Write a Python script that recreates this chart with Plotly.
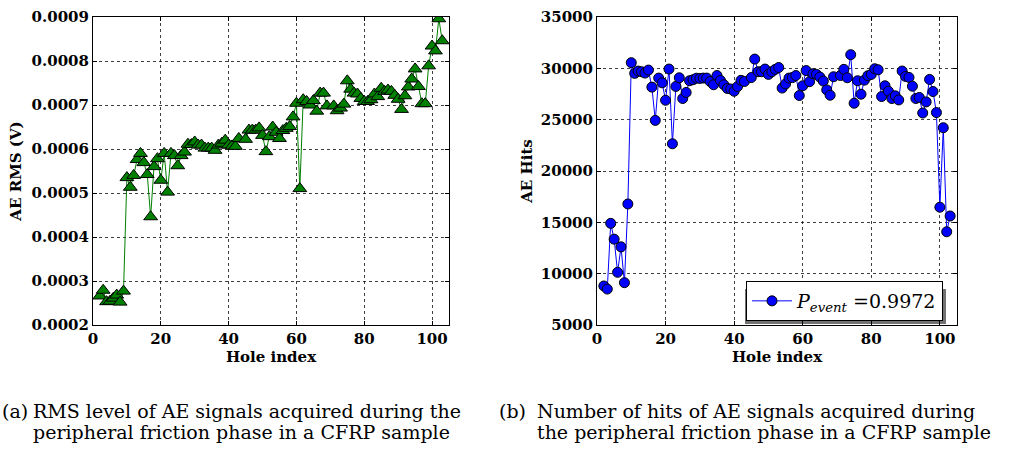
import plotly.graph_objects as go

# ---------------- data ----------------
holes = list(range(2, 44)) + list(range(45, 70)) + list(range(71, 104))

rms = [0.000266, 0.000279, 0.000253, 0.000254, 0.000261, 0.000268, 0.000252, 0.000277,
       0.000535, 0.000513, 0.000540, 0.000576, 0.000590, 0.000569, 0.000542, 0.000446, 0.000560, 0.000578,
       0.000529, 0.000590, 0.000502, 0.000590, 0.000585, 0.000562, 0.000585, 0.000593, 0.000611, 0.000610,
       0.000616, 0.000609, 0.000609, 0.000602, 0.000602, 0.000602, 0.000597, 0.000609, 0.000613, 0.000620,
       0.000609, 0.000607, 0.000606, 0.000624,
       0.000622, 0.000643, 0.000643, 0.000643, 0.000648, 0.000631, 0.000594, 0.000628, 0.000650, 0.000638,
       0.000624, 0.000642, 0.000647, 0.000651, 0.000673, 0.000704, 0.000510, 0.000712, 0.000708, 0.000700,
       0.000710, 0.000686, 0.000727, 0.000727, 0.000698,
       0.000698, 0.000687, 0.000693, 0.000702, 0.000755, 0.000736, 0.000727, 0.000725, 0.000715, 0.000708,
       0.000708, 0.000712, 0.000725, 0.000719, 0.000738, 0.000731, 0.000734, 0.000731, 0.000722, 0.000713,
       0.000690, 0.000721, 0.000741, 0.000759, 0.000782, 0.000742, 0.000703, 0.000703, 0.000789, 0.000834,
       0.000823, 0.000896, 0.000846]

hits = [8800, 8500, 14900, 13360, 10130, 12610, 9120, 16790,
        30550, 29510, 29735, 29670, 29540, 29830, 28170, 24930, 29050, 28590,
        26890, 29930, 22650, 28235, 29080, 27060, 27650, 28790, 28890, 29040,
        29020, 29050, 29050, 28720, 28400, 29300, 28820, 28400, 28040, 27990,
        27770, 28230, 28830, 28720,
        29100, 30900, 29670, 29670, 29930, 29410, 29670, 29900, 30080, 28080,
        28480, 29050, 29100, 29300, 27350, 28300, 29780, 28700, 29470, 29410,
        29150, 28760, 27900, 27380, 29180,
        29300, 29900, 29080, 31330, 26600, 28790, 27480, 28850, 29280, 29410,
        29960, 29860, 27250, 28300, 27770, 27060, 27320, 26920, 29735, 29210,
        29115, 28260, 27060, 27160, 25650, 26730, 28920, 27740, 25690, 16470,
        24215, 14080, 15620]

x_ticks = [0, 20, 40, 60, 80, 100]
rms_ticks = [0.0002, 0.0003, 0.0004, 0.0005, 0.0006, 0.0007, 0.0008, 0.0009]
hits_ticks = [5000, 10000, 15000, 20000, 25000, 30000, 35000]

legend_label = "<i>P</i><sub><i>event</i></sub> =0.9972"
x_title = "Hole index"
y1_title = "AE RMS (V)"
y2_title = "AE Hits"
cap_a1 = "RMS level of AE signals acquired during the"
cap_a2 = "peripheral friction phase in a CFRP sample"
cap_b1 = "Number of hits of AE signals acquired during"
cap_b2 = "the peripheral friction phase in a CFRP sample"

# ---------------- figure ----------------
W, H = 1010, 453
FONT = "DejaVu Serif"

fig = go.Figure()
fig.add_trace(go.Scatter(
    x=holes, y=rms, mode="lines+markers", xaxis="x", yaxis="y", showlegend=False,
    line=dict(color="#008000", width=1),
    marker=dict(symbol="triangle-up", size=12, color="#008000", line=dict(color="black", width=1)),
))
fig.add_trace(go.Scatter(
    x=holes, y=hits, mode="lines+markers", xaxis="x2", yaxis="y2", name=legend_label, showlegend=True,
    line=dict(color="#0000ff", width=1),
    marker=dict(symbol="circle", size=10, color="#0000ff", line=dict(color="black", width=1)),
))

tickfont = dict(family=FONT, size=15, color="black", weight="bold")
titlefont = dict(family=FONT, size=15, color="black", weight="bold")


def axis(**kw):
    d = dict(showline=True, linecolor="black", linewidth=1, mirror="ticks", ticks="inside",
             ticklen=4, tickcolor="black", showgrid=True, gridcolor="rgba(0,0,0,0.75)",
             griddash="dot", gridwidth=1, zeroline=False, automargin=False, tickfont=tickfont)
    d.update(kw)
    return d


yt, yb = 17, 325
ydom = [1 - yb / H, 1 - yt / H]

fig.update_layout(
    template="none",
    width=W, height=H,
    margin=dict(l=0, r=0, t=0, b=0),
    paper_bgcolor="white", plot_bgcolor="white",
    xaxis=axis(domain=[93 / W, 449 / W], range=[0, 105], tickvals=x_ticks, anchor="y",
               title=dict(text=x_title, font=titlefont, standoff=3)),
    yaxis=axis(domain=ydom, range=[0.0002, 0.0009], tickvals=rms_ticks, tickformat=".4f", anchor="x",
               title=dict(text=y1_title, font=titlefont, standoff=6)),
    xaxis2=axis(domain=[597 / W, 957 / W], range=[0, 105], tickvals=x_ticks, anchor="y2",
                title=dict(text=x_title, font=titlefont, standoff=3)),
    yaxis2=axis(domain=ydom, range=[5000, 35000], tickvals=hits_ticks, tickformat="d", anchor="x2",
                title=dict(text=y2_title, font=titlefont, standoff=4)),
    legend=dict(x=943 / W, xanchor="right", y=1 - 321 / H, yanchor="bottom",
                bordercolor="black", borderwidth=1, bgcolor="white", itemwidth=40,
                entrywidth=148, tracegroupgap=0,
                font=dict(family=FONT, size=19, color="black")),
)

# soft shadow behind the legend frame
fig.add_shape(type="rect", xref="paper", yref="paper",
              x0=745 / W, x1=946 / W, y0=1 - 324 / H, y1=1 - 289 / H,
              line=dict(width=0), fillcolor="rgba(0,0,0,0.55)", layer="above")

capfont = dict(family=FONT, size=19, color="black")
caps = [
    ("(a)", 0, 411), (cap_a1, 31, 411), (cap_a2, 31, 432),
    ("(b)", 497, 411), (cap_b1, 535, 411), (cap_b2, 535, 432),
]
for txt, px, py in caps:
    fig.add_annotation(text=txt, xref="paper", yref="paper", x=px / W, y=1 - py / H,
                       xanchor="left", yanchor="middle", showarrow=False, font=capfont)

fig.write_html("out.html", config={"displayModeBar": False},
               post_script="document.body.style.margin='0';document.body.style.overflow='hidden';")
